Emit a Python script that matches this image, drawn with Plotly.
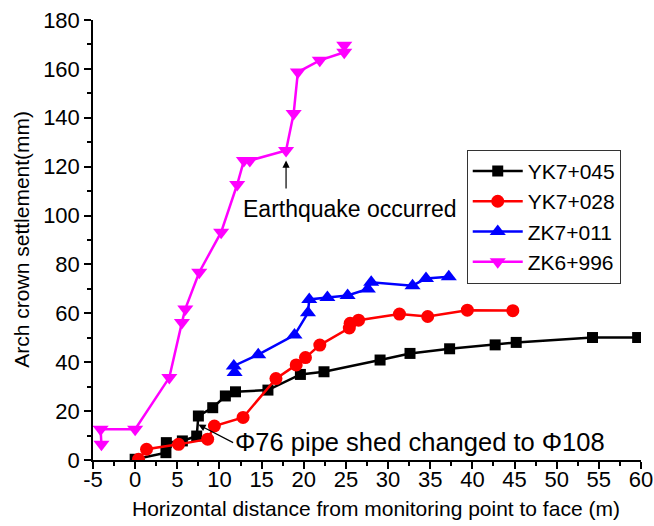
import plotly.graph_objects as go

# ---- data ----
yk045_x = [0, 3.65, 3.7, 5.6, 7.3, 7.5, 9.2, 10.7, 11.9, 15.75, 19.6, 22.4, 29.05, 32.6, 37.3, 42.7, 45.2, 54.25, 59.6]
yk045_y = [0.3, 3, 7.1, 7.8, 9.8, 18, 21.4, 26.2, 27.9, 28.6, 35, 36.1, 40.9, 43.6, 45.5, 47.1, 48.1, 50.1, 50.1]

yk028_x = [0.4, 1.35, 5.15, 8.6, 9.4, 12.8, 16.7, 19.1, 20.2, 21.9, 25.4, 25.5, 26.5, 31.35, 34.7, 39.4, 44.8]
yk028_y = [0.3, 4.4, 6.4, 8.5, 13.9, 17.4, 33.3, 38.9, 41.9, 47, 54, 55.9, 57.2, 59.7, 58.7, 61.3, 61.1]

zk011_x = [11.8, 11.7, 14.6, 18.9, 20.5, 20.65, 22.8, 25.2, 27.6, 28, 32.9, 34.5, 37.2]
zk011_y = [35.8, 38.5, 43.1, 51.1, 60.2, 65.7, 66.5, 67.3, 70, 72.7, 71.3, 74.3, 75]

zk996_x = [-4.0, -4.1, 0, 4.05, 5.55, 5.95, 7.6, 10.2, 12.1, 12.9, 13.6, 17.9, 18.8, 19.3, 21.9, 24.8, 24.8]
zk996_y = [6.4, 12.6, 12.6, 33.7, 56.3, 61.8, 76.8, 93.2, 112.7, 122.5, 122.5, 126.6, 141.7, 158.7, 163.5, 166.8, 169.7]

x_tickvals = [-5, 0, 5, 10, 15, 20, 25, 30, 35, 40, 45, 50, 55, 60]
x_ticktext = ["-5", "0", "5", "10", "15", "20", "25", "30", "35", "40", "45", "50", "55", "60"]
y_tickvals = [0, 20, 40, 60, 80, 100, 120, 140, 160, 180]

series = [
    ("YK7+045", yk045_x, yk045_y, "black", "square", 11),
    ("YK7+028", yk028_x, yk028_y, "#ff0000", "circle", 13),
    ("ZK7+011", zk011_x, zk011_y, "#0000ff", "triangle-up", 14),
    ("ZK6+996", zk996_x, zk996_y, "#ff00ff", "triangle-down", 14),
]

FONT = "Liberation Sans, Arial, sans-serif"
PLOT_L, PLOT_R, PLOT_T, PLOT_B = 93.3, 641.0, 20.0, 460.0

fig = go.Figure()
for i, (name, xs, ys, col, sym, sz) in enumerate(series):
    fig.add_trace(go.Scatter(
        x=xs, y=ys, name=name, mode="lines+markers",
        line=dict(color=col, width=2.5),
        marker=dict(color=col, symbol=sym, size=sz),
    ))

fig.update_layout(
    width=654, height=526,
    margin=dict(l=93, r=13, t=20, b=66, autoexpand=False),
    paper_bgcolor="white", plot_bgcolor="white",
    font=dict(family=FONT, size=22, color="black"),
    showlegend=True,
    legend=dict(
        x=0.682, y=0.705, xanchor="left", yanchor="top",
        bordercolor="#333333", borderwidth=1, bgcolor="white",
        font=dict(size=21), itemwidth=50,
        traceorder="normal",
    ),
    xaxis=dict(
        range=[-5, 60], tickmode="array", tickvals=x_tickvals, ticktext=x_ticktext, automargin=False,
        showgrid=False, zeroline=False, showline=True, linecolor="black", linewidth=1.5,
        ticks="outside", ticklen=7, tickwidth=1.5, tickcolor="black",
        minor=dict(dtick=2.5, tick0=-5, ticks="outside", ticklen=4, tickwidth=1.5, tickcolor="black"),
        tickfont=dict(size=22), ticklabelstandoff=-8,
    ),
    yaxis=dict(
        range=[0, 180], tickmode="array", tickvals=y_tickvals, automargin=False,
        showgrid=False, zeroline=False, showline=True, linecolor="black", linewidth=1.5,
        ticks="outside", ticklen=7, tickwidth=1.5, tickcolor="black",
        minor=dict(dtick=10, tick0=0, ticks="outside", ticklen=4, tickwidth=1.5, tickcolor="black"),
        tickfont=dict(size=22),
    ),
)

# axis titles
fig.add_annotation(x=(376 - PLOT_L) / (PLOT_R - PLOT_L), y=(PLOT_B - 508) / (PLOT_B - PLOT_T),
                   xref="paper", yref="paper", yanchor="middle", xanchor="center",
                   text="Horizontal distance from monitoring point to face (m)", showarrow=False,
                   font=dict(size=21))
fig.add_annotation(x=(22 - PLOT_L) / (PLOT_R - PLOT_L), y=(PLOT_B - 239) / (PLOT_B - PLOT_T),
                   xref="paper", yref="paper", xanchor="center", yanchor="middle", textangle=-90,
                   text="Arch crown settlement(mm)", showarrow=False, font=dict(size=21))

# annotations
fig.add_annotation(x=17.9, y=122.5, ax=17.9, ay=110.5, xref="x", yref="y", axref="x", ayref="y",
                   text="", showarrow=True, arrowhead=2, arrowsize=1.2, arrowwidth=1.2, arrowcolor="black")
fig.add_annotation(x=12.5, y=102.5, xref="x", yref="y", text="Earthquake occurred",
                   showarrow=False, xanchor="left", yanchor="middle", font=dict(size=23))
fig.add_annotation(x=7.5, y=14.5, ax=11.8, ay=6.8, xref="x", yref="y", axref="x", ayref="y",
                   text="", showarrow=True, arrowhead=2, arrowsize=1.2, arrowwidth=1.2, arrowcolor="black")
fig.add_annotation(x=11.6, y=7.3, xref="x", yref="y", text="Φ76 pipe shed changed to Φ108",
                   showarrow=False, xanchor="left", yanchor="middle", font=dict(size=25.5))

fig.write_html("out.html")
